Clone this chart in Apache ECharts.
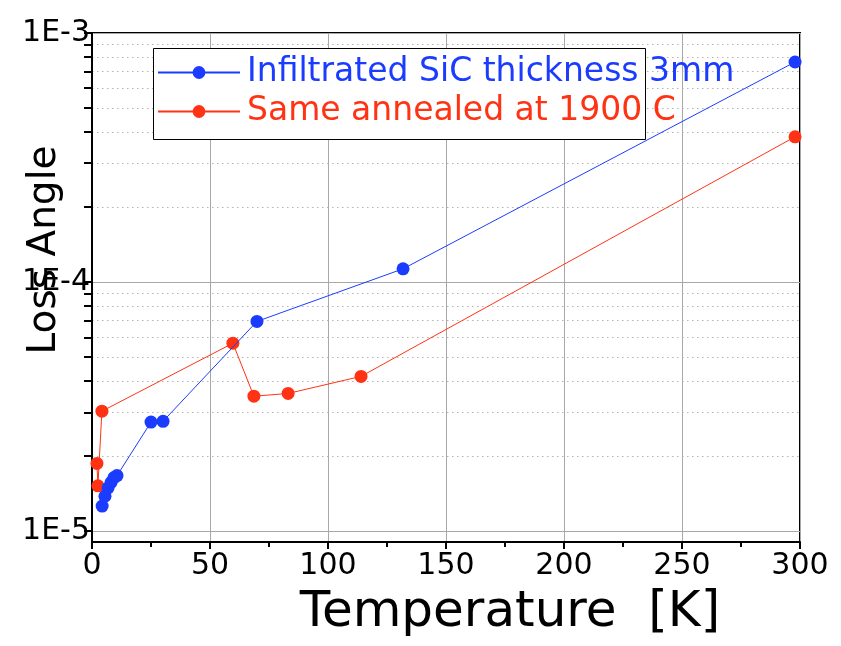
<!DOCTYPE html>
<html>
<head>
<meta charset="utf-8">
<script src="https://cdn.jsdelivr.net/npm/echarts@6/dist/echarts.min.js"></script>
<style>
  html, body { margin: 0; padding: 0; background: #fff; }
  #chart { width: 841px; height: 646px; }
</style>
</head>
<body>
<div id="chart"></div>
<script>
// temperature [K] and loss angle
const infiltratedT = [4.3, 5.5, 6.8, 8.1, 9.3, 10.6, 25.0, 30.1, 69.9, 131.8, 297.9];
const infiltratedLoss = [1.26e-5, 1.38e-5, 1.49e-5, 1.57e-5, 1.64e-5, 1.67e-5, 2.74e-5, 2.76e-5, 6.95e-5, 1.13e-4, 7.65e-4];
const annealedT = [2.1, 2.5, 4.2, 59.7, 68.6, 83.1, 114.0, 297.9];
const annealedLoss = [1.87e-5, 1.52e-5, 3.03e-5, 5.68e-5, 3.48e-5, 3.57e-5, 4.18e-5, 3.83e-4];

const seriesNames = ['Infiltrated SiC thickness 3mm', 'Same annealed at 1900 C'];
const xTicks = [0, 50, 100, 150, 200, 250, 300];
const yDecades = [1e-5, 1e-4, 1e-3];
const yMinor = [2e-5, 3e-5, 4e-5, 5e-5, 6e-5, 7e-5, 8e-5, 9e-5,
                2e-4, 3e-4, 4e-4, 5e-4, 6e-4, 7e-4, 8e-4, 9e-4];

const FONT = 'DejaVu Sans';
const BLUE = '#1b3cff';
const RED = '#ff3314';
const Y_MIN = 9.04e-6;
const Y_MAX = 1e-3;

const zip = (xs, ys) => xs.map((x, i) => [x, ys[i]]);

var chartDom = document.getElementById('chart');
var myChart = echarts.init(chartDom, null, { renderer: 'canvas' });
var option;

option = {
  animation: false,
  grid: {
    show: true,
    left: 92,
    right: 41,
    top: 33,
    bottom: 104,
    borderColor: '#000',
    borderWidth: 2,
    backgroundColor: 'rgba(0,0,0,0)'
  },
  legend: {
    orient: 'vertical',
    left: 157,
    top: 56,
    padding: 0,
    zlevel: 1,
    z: 5,
    itemWidth: 82,
    itemHeight: 16,
    itemGap: 6,
    textStyle: { fontFamily: FONT, fontSize: 33, lineHeight: 31, padding: [0, 0, 0, 2] },
    data: [
      { name: seriesNames[0], textStyle: { color: BLUE } },
      { name: seriesNames[1], textStyle: { color: RED } }
    ]
  },
  graphic: [
    {
      // legend frame, narrower than the first legend text as in the original
      type: 'rect',
      shape: { x: 153.5, y: 48.5, width: 492, height: 91 },
      style: { fill: '#fff', stroke: '#000', lineWidth: 1 },
      zlevel: 1,
      z: 1
    },
    {
      type: 'text',
      x: 45,
      y: 250,
      rotation: Math.PI / 2,
      style: {
        text: 'Loss Angle',
        font: '39px "' + FONT + '"',
        fill: '#000',
        align: 'center',
        verticalAlign: 'middle'
      },
      zlevel: 1,
      z: 10
    }
  ],
  xAxis: {
    type: 'value',
    min: xTicks[0],
    max: xTicks[xTicks.length - 1],
    interval: 50,
    name: 'Temperature  [K]',
    nameLocation: 'middle',
    nameGap: 46,
    nameTextStyle: { fontFamily: FONT, fontSize: 50, color: '#000', padding: [0, 0, 0, 128] },
    axisLine: { lineStyle: { color: '#000', width: 2 } },
    axisTick: { inside: false, length: 7, lineStyle: { color: '#000', width: 2 } },
    minorTick: { show: true, splitNumber: 2, length: 5, lineStyle: { color: '#000', width: 2 } },
    axisLabel: { fontFamily: FONT, fontSize: 30, color: '#000', margin: 9 },
    splitLine: { show: true, lineStyle: { color: '#a8a8a8', width: 1 } }
  },
  yAxis: [
    {
      // decades: labels, ticks, solid gridlines
      type: 'log',
      logBase: 10,
      min: Y_MIN,
      max: Y_MAX,
      axisLine: { lineStyle: { color: '#000', width: 2 } },
      axisTick: {
        inside: false,
        length: 8,
        customValues: yDecades,
        lineStyle: { color: '#000', width: 2 }
      },
      axisLabel: {
        fontFamily: FONT,
        fontSize: 30,
        color: '#000',
        margin: 2,
        padding: [0, 0, 20, 0],
        customValues: yDecades,
        formatter: function (v) {
          return '1E' + Math.round(Math.log10(v));
        }
      },
      splitLine: { show: true, lineStyle: { color: '#a8a8a8', width: 1 } }
    },
    {
      // 2..9 inside each decade: ticks and dotted gridlines
      type: 'log',
      logBase: 10,
      min: Y_MIN,
      max: Y_MAX,
      position: 'left',
      axisLine: { show: false },
      axisTick: {
        inside: false,
        length: 8,
        customValues: yMinor,
        lineStyle: { color: '#000', width: 2 }
      },
      axisLabel: { show: false },
      splitLine: { show: true, lineStyle: { color: '#b4b4b4', type: [1.5, 3.5], width: 1.2 } }
    }
  ],
  series: [
    {
      name: seriesNames[0],
      type: 'line',
      data: zip(infiltratedT, infiltratedLoss),
      symbol: 'circle',
      symbolSize: 13,
      color: BLUE,
      lineStyle: { color: BLUE, width: 1 },
      itemStyle: { color: BLUE },
      z: 4
    },
    {
      name: seriesNames[1],
      type: 'line',
      data: zip(annealedT, annealedLoss),
      symbol: 'circle',
      symbolSize: 13,
      color: RED,
      lineStyle: { color: RED, width: 1 },
      itemStyle: { color: RED },
      z: 3
    }
  ]
};

option && myChart.setOption(option);
</script>
</body>
</html>
